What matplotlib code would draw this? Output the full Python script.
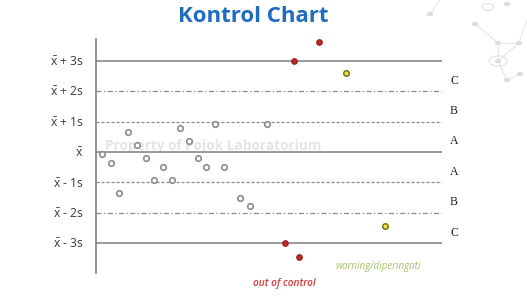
import matplotlib
matplotlib.use('Agg')
import matplotlib.pyplot as plt
from matplotlib.lines import Line2D
from matplotlib.patches import Circle

# sample positions and values (in units of s from the mean)
normal_x = [1, 2, 3, 4, 5, 6, 7, 8, 9, 10, 11, 12, 13, 14, 15, 16.9, 18, 20]
normal_y = [-0.07, -0.35, -1.36, 0.65, 0.22, -0.21, -0.92, -0.5, -0.92,
            0.79, 0.36, -0.21, -0.5, 0.93, -0.5, -1.5, -1.78, 0.93]
out_x = [22, 23.1, 23.6, 26]
out_y = [-3.0, 3.0, -3.47, 3.63]
warn_x = [29, 33.5]
warn_y = [2.6, -2.43]

limit_levels = [3, 2, 1, 0, -1, -2, -3]
limit_labels = [r'$\bar{\mathrm{x}}$ + 3s', r'$\bar{\mathrm{x}}$ + 2s', r'$\bar{\mathrm{x}}$ + 1s',
                r'$\bar{\mathrm{x}}$', r'$\bar{\mathrm{x}}$ - 1s', r'$\bar{\mathrm{x}}$ - 2s',
                r'$\bar{\mathrm{x}}$ - 3s']
zone_centers = [2.5, 1.5, 0.5, -0.5, -1.5, -2.5]
zone_labels = ['C', 'B', 'A', 'A', 'B', 'C']

plt.rcParams['mathtext.fontset'] = 'custom'
plt.rcParams['mathtext.rm'] = 'Open Sans'
plt.rcParams['font.family'] = ['Open Sans', 'DejaVu Sans']

fig = plt.figure(figsize=(5.27, 2.98), dpi=100)

# faint network decoration in the top right corner
deco_col = '#e6e6e6'
nodes = [(475, 24), (498, 43), (519, 43), (498, 61), (507, 80), (520, 74), (430, 14), (507, 4)]
for (x0, y0), (x1, y1) in [((475, 24), (498, 43)), ((498, 43), (519, 43)), ((498, 43), (498, 61)),
                           ((519, 43), (498, 61)), ((498, 61), (507, 80)), ((519, 43), (527, 20)),
                           ((507, 80), (520, 74)), ((430, 14), (440, 0))]:
    fig.add_artist(Line2D([x0 / 527, x1 / 527], [1 - y0 / 298, 1 - y1 / 298],
                          color=deco_col, lw=0.8, zorder=0))
for x0, y0 in nodes:
    fig.add_artist(Circle((x0 / 527, 1 - y0 / 298), 2.5 / 527, color='#dcdcdc', zorder=0))
fig.add_artist(Circle((498 / 527, 1 - 61 / 298), 9 / 527, fill=False, ec=deco_col, lw=1, zorder=0))
fig.add_artist(Circle((488 / 527, 1 - 7 / 298), 6 / 527, fill=False, ec=deco_col, lw=1, zorder=0))

ax = fig.add_axes([0.1822, 0.0829, 0.6565, 0.7862])
ax.patch.set_alpha(0)
ax.set_xlim(0.3, 40.1)
ax.set_ylim(-3.99, 3.72)

ax.text(1.35, 0.2, 'Property of Pojok Laboratorium', fontsize=9.8,
        fontweight='bold', color='#e4e4e4', ha='left', va='center', zorder=1)

# control lines
for lvl in limit_levels:
    if abs(lvl) == 3 or lvl == 0:
        ax.axhline(lvl, color='#7f7f7f', lw=1.1, ls='-')
    elif abs(lvl) == 2:
        ax.axhline(lvl, color='#8a8a8a', lw=0.9, ls=(0, (4, 2, 1, 2)))
    else:
        ax.axhline(lvl, color='#8a8a8a', lw=0.9, ls=(0, (2.5, 1.5)))

ax.scatter(normal_x, normal_y, s=16, facecolor='white', edgecolor='#8c8c8c',
           linewidth=1.2, zorder=3, clip_on=False)
ax.scatter(out_x, out_y, s=16, facecolor='#c0282a', edgecolor='#9a1c1c',
           linewidth=0.8, zorder=3, clip_on=False)
ax.scatter(warn_x, warn_y, s=16, facecolor='#eae33a', edgecolor='#6f6a10',
           linewidth=1.0, zorder=3, clip_on=False)

ax.set_yticks(limit_levels)
ax.set_yticklabels(limit_labels, fontsize=8.7, color='#3a3a3a')
ax.tick_params(axis='y', length=0, pad=9)
ax.set_xticks([])
for side in ['top', 'right', 'bottom']:
    ax.spines[side].set_visible(False)
ax.spines['left'].set_color('#7f7f7f')
ax.spines['left'].set_linewidth(1.2)

for yc, lab in zip(zone_centers, zone_labels):
    ax.text(1.035, yc - 0.15, lab, transform=ax.get_yaxis_transform(),
            fontsize=8.5, family='Liberation Serif', color='#222222',
            ha='center', va='center', clip_on=False)

fig.text(0.48, 0.945, 'Kontrol Chart', fontsize=16, fontweight='bold',
         color='#1f6cc0', ha='center', va='center')
fig.text(0.48, 0.05, 'out of control', fontsize=7.3, fontstyle='italic',
         fontweight='semibold', color='#d33a3a', ha='left', va='center')
fig.text(0.636, 0.105, 'warning/diperingati', fontsize=7, fontstyle='italic',
         color='#a4c46a', ha='left', va='center')

fig.savefig('out.png', dpi=100)
